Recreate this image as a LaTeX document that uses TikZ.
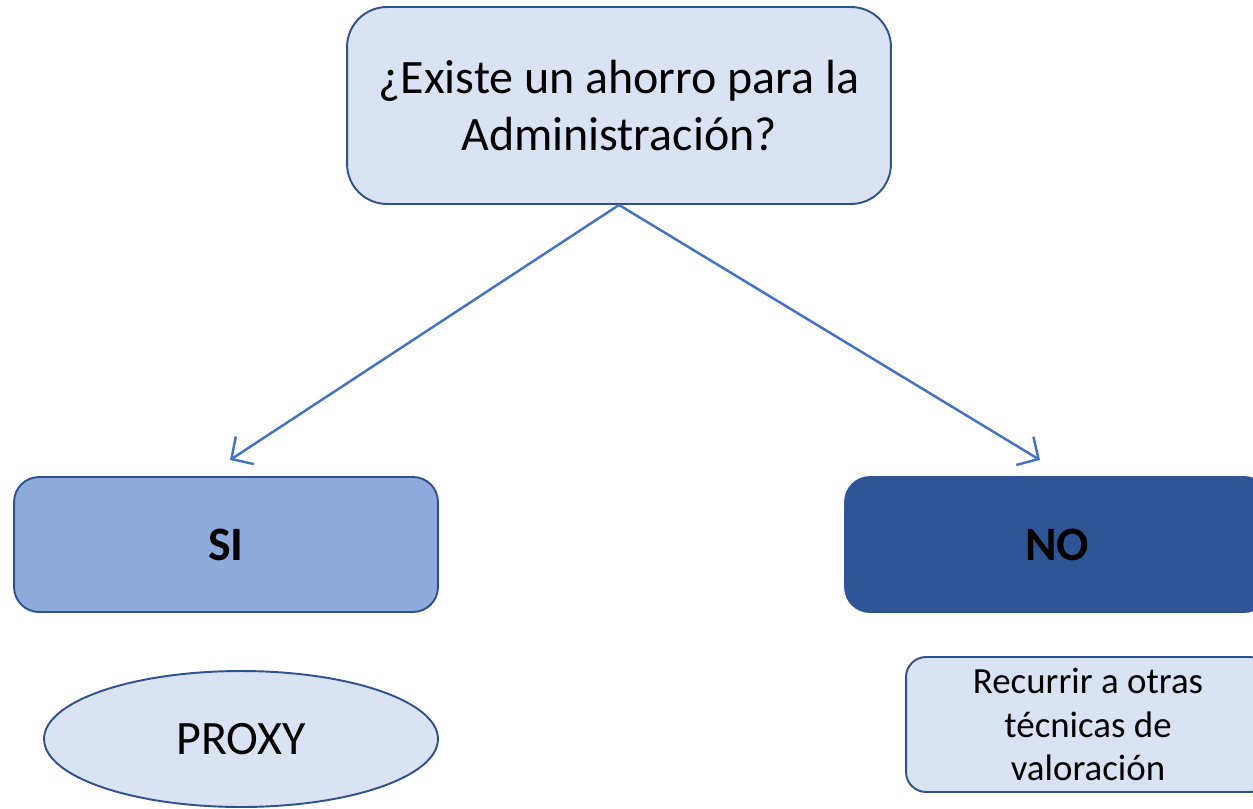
\documentclass[tikz,border=0pt]{standalone}
\usepackage{fontspec}
\setmainfont{Carlito}
\usetikzlibrary{positioning}
\usetikzlibrary{arrows.meta}
\usetikzlibrary{shapes.geometric}
\definecolor{boxfill}{HTML}{DAE3F3}
\definecolor{boxline}{HTML}{2F528F}
\definecolor{sifill}{HTML}{8FAADC}
\definecolor{nofill}{HTML}{2F5597}
\definecolor{arrowblue}{HTML}{4472C4}

\begin{document}
\begin{tikzpicture}[x=0.02cm, y=-0.02cm,
		box/.style={draw=boxline, line width=1.1pt, rounded corners=0.5cm, align=center, inner sep=0pt},
		bigtext/.style={font=\fontsize{27.3pt}{32.6pt}\selectfont},
		smalltext/.style={font=\fontsize{21pt}{25pt}\selectfont},
		arr/.style={draw=arrowblue, line width=1.4pt, -{Straight Barb[length=0.32cm, width=0.66cm]}}]
				    		\useasboundingbox (0, 0) rectangle (1253, 808);
				    		\node[box, fill=boxfill, bigtext, rounded corners=0.8cm, minimum width=10.88cm, minimum height=3.94cm] (question) at (619, 105.5) {¿Existe un ahorro para la\\Administración?};
				    		\node[box, fill=sifill, bigtext, minimum width=8.48cm, minimum height=2.7cm] (si) at (226, 544.5) {\textbf{SI}};
				    		\node[box, fill=nofill, draw=nofill, bigtext, minimum width=8.48cm, minimum height=2.7cm] (no) at (1057, 544.5) {\textbf{NO}};
				    		\node[draw=boxline, line width=1.1pt, fill=boxfill, ellipse, bigtext, inner sep=0pt, minimum width=7.88cm, minimum height=2.72cm] (proxy) at (241, 739) {PROXY};
				    		\node[box, fill=boxfill, smalltext, rounded corners=0.4cm, minimum width=7.28cm, minimum height=2.7cm] (otras) at (1088, 724.5) {Recurrir a otras\\técnicas de\\valoración};
							\coordinate (siend) at (230, 460);
							\coordinate (noend) at (1040, 460);
				    		\draw[arr] (question.south) -- (siend);
				    		\draw[arr] (question.south) -- (noend);
				    	\end{tikzpicture}
\end{document}
